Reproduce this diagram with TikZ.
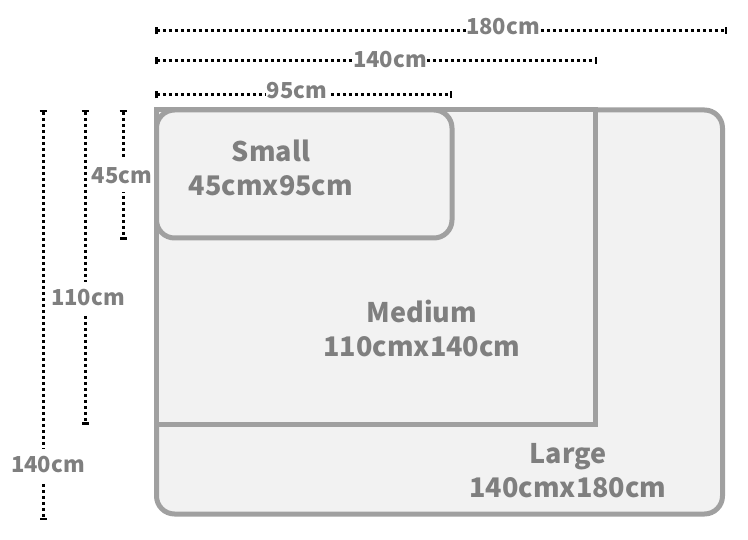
\documentclass[tikz,border=0pt]{standalone}
\usepackage{fontspec}
\setmainfont{Noto Sans CJK SC}
\usetikzlibrary{arrows.meta}
\definecolor{boxline}{HTML}{A0A0A0}
\definecolor{boxfill}{HTML}{F2F2F2}
\definecolor{labeltext}{HTML}{7F7F7F}
\tikzset{
  size box/.style = {
    draw = boxline,
    fill = boxfill,
    line width = 5pt},
  size label/.style = {
    text = labeltext,
    align = center,
    font = \fontsize{27}{34}\selectfont\bfseries},
  dim line/.style = {
    draw = black,
    line width = 3pt,
    dash pattern = on 3pt off 3pt,
    {Bar[width=7pt,line width=2.5pt]}-{Bar[width=7pt,line width=2.5pt]}},
  dim label/.style = {
    text = labeltext,
    fill = white,
    inner sep = 0.5pt,
    font = \fontsize{22}{24}\selectfont\bfseries}
}

\begin{document}
\begin{tikzpicture}[x = 1pt, y = -1pt]
  \useasboundingbox (0,0) rectangle (748,540);
  % corners of the three sizes
  \coordinate (origin) at (156.5,110);
  \coordinate (large corner) at (722.5,514);
  \coordinate (medium corner) at (595,425);
  \coordinate (small corner) at (452,238);
  \draw[size box, rounded corners = 18pt] (origin) rectangle (large corner);
  \draw[size box] (origin) rectangle (medium corner);
  \draw[size box, rounded corners = 18pt] (origin) rectangle (small corner);
  \node[size label] (small) at (271,168) {Small\\45cmx95cm};
  \node[size label] (medium) at (422,328) {Medium\\110cmx140cm};
  \node[size label] (large) at (568,471) {Large\\140cmx180cm};
  % dimension lines
  \coordinate (w180 start) at (155,31);  \coordinate (w180 end) at (727,31);
  \coordinate (w140 start) at (155,61);  \coordinate (w140 end) at (597,61);
  \coordinate (w95 start) at (155,95);   \coordinate (w95 end) at (452,95);
  \coordinate (h45 start) at (123,110);  \coordinate (h45 end) at (123,240);
  \coordinate (h110 start) at (85,110);  \coordinate (h110 end) at (85,425);
  \coordinate (h140 start) at (43,110);  \coordinate (h140 end) at (43,520);
  \draw[dim line] (w180 start) -- (w180 end);
  \draw[dim line] (w140 start) -- (w140 end);
  \draw[dim line] (w95 start) -- (w95 end);
  \draw[dim line] (h45 start) -- (h45 end);
  \draw[dim line] (h110 start) -- (h110 end);
  \draw[dim line] (h140 start) -- (h140 end);
  \node[dim label] (w180) at (503,27) {180cm};
  \node[dim label] (w140) at (390,60) {140cm};
  \node[dim label] (w95) at (297,91) {95cm};
  \node[dim label, inner ysep = 8pt] (h45) at (122,176) {45cm};
  \node[dim label, inner ysep = 8pt] (h110) at (88,298) {110cm};
  \node[dim label, inner ysep = 8pt] (h140) at (48,465) {140cm};
\end{tikzpicture}
\end{document}
